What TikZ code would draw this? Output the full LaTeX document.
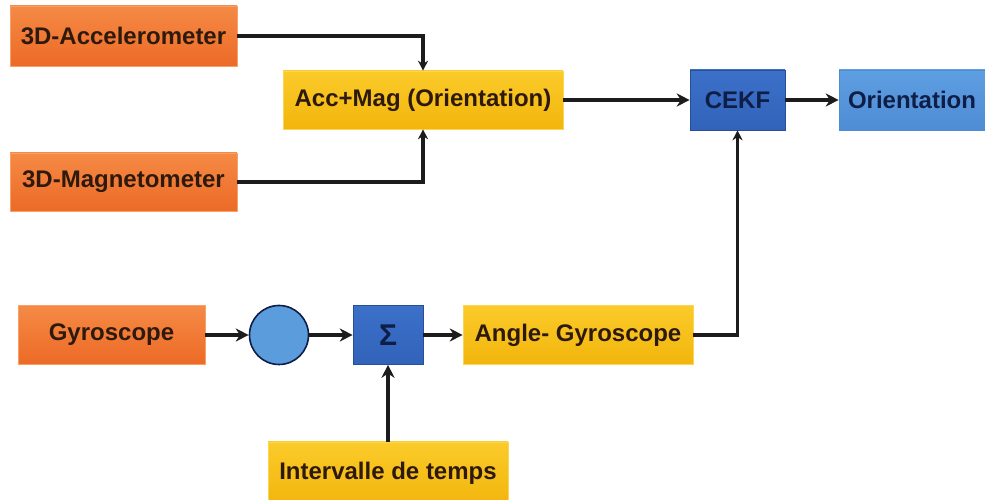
\documentclass[tikz,border=0pt]{standalone}
\usepackage{fontspec}
\setmainfont{Liberation Sans}
\usetikzlibrary{arrows.meta}

\definecolor{orangeTop}{HTML}{F58A45}
\definecolor{orangeBot}{HTML}{EC6A26}
\definecolor{goldTop}{HTML}{FBCB2A}
\definecolor{goldBot}{HTML}{F2B50C}
\definecolor{blueDark}{HTML}{3C70C9}
\definecolor{blueDarkB}{HTML}{3263BA}
\definecolor{blueLight}{HTML}{5E9EE2}
\definecolor{blueLightB}{HTML}{4E8CD4}
\definecolor{circBlue}{HTML}{5B9CDD}
\definecolor{inkWarm}{HTML}{2E1A0C}
\definecolor{inkBlue}{HTML}{0E1E46}
\definecolor{wire}{HTML}{1C1C1C}

\tikzset{
  blockbase/.style={rectangle, inner sep=0pt, font=\bfseries\fontsize{24}{26}\selectfont},
  sensor/.style={blockbase, top color=orangeTop, bottom color=orangeBot,
                 draw=orangeTop!80!white, line width=0.6pt, text=inkWarm},
  stage/.style={blockbase, top color=goldTop, bottom color=goldBot,
                draw=goldTop!80!white, line width=0.6pt, text=inkWarm},
  filterbox/.style={blockbase, top color=blueDark, bottom color=blueDarkB,
                    draw=blueDarkB!80!black, line width=0.6pt, text=inkBlue},
  outbox/.style={blockbase, top color=blueLight, bottom color=blueLightB,
                 draw=blueLightB, line width=0.6pt, text=inkBlue},
  junction/.style={circle, fill=circBlue, draw=inkBlue, line width=1.6pt,
                   minimum size=59pt, inner sep=0pt},
  flow/.style={draw=wire, line width=3.4pt,
               -{Stealth[length=13pt,width=13pt]}},
  thinflow/.style={draw=wire, line width=3.2pt,
               -{Stealth[length=10pt,width=10pt]}}
}

\begin{document}
\begin{tikzpicture}[x=1pt,y=1pt]
  \useasboundingbox (0,0) rectangle (985,500);
  \fill[white] (0,0) rectangle (985,500);

  % sensor inputs
  \node[sensor, minimum width=227pt, minimum height=60pt] (acc) at (123.5,464) {3D-Accelerometer};
  \node[sensor, minimum width=227pt, minimum height=58pt] (mag) at (123.5,318) {3D-Magnetometer};
  \node[sensor, minimum width=187pt, minimum height=59pt] (gyro) at (111.5,165) {Gyroscope};

  % processing stages
  \node[stage, minimum width=280pt, minimum height=58pt] (accmag) at (423,400) {Acc+Mag (Orientation)};
  \node[filterbox, minimum width=95pt, minimum height=60pt] (cekf) at (737.5,400) {CEKF};
  \node[outbox, minimum width=146pt, minimum height=60pt] (orient) at (912,400) {Orientation};

  \node[junction] (junc) at (279,165) {};
  \node[filterbox, minimum width=70pt, minimum height=59pt, font=\bfseries\fontsize{30}{32}\selectfont] (sum) at (388,165) {Σ};
  \node[stage, minimum width=230pt, minimum height=59pt] (angle) at (578,165) {Angle- Gyroscope};
  \node[stage, minimum width=240pt, minimum height=63pt] (dt) at (388,26.5) {Intervalle de temps};

  % bend points
  \coordinate (accTurn) at (423,464);
  \coordinate (magTurn) at (423,318);
  \coordinate (angTurn) at (737.5,165);

  % connectors
  \draw[thinflow] (acc.east) -- (accTurn) -- (accmag.north);
  \draw[thinflow] (mag.east) -- (magTurn) -- (accmag.south);
  \draw[flow] (accmag.east) -- (cekf.west);
  \draw[flow] (cekf.east) -- (orient.west);
  \draw[flow] (gyro.east) -- (junc.west);
  \draw[flow] (junc.east) -- (sum.west);
  \draw[flow] (sum.east) -- (angle.west);
  \draw[thinflow] (angle.east) -- (angTurn) -- (cekf.south);
  \draw[flow, line width=4pt] (dt.north) -- (sum.south);
\end{tikzpicture}
\end{document}
